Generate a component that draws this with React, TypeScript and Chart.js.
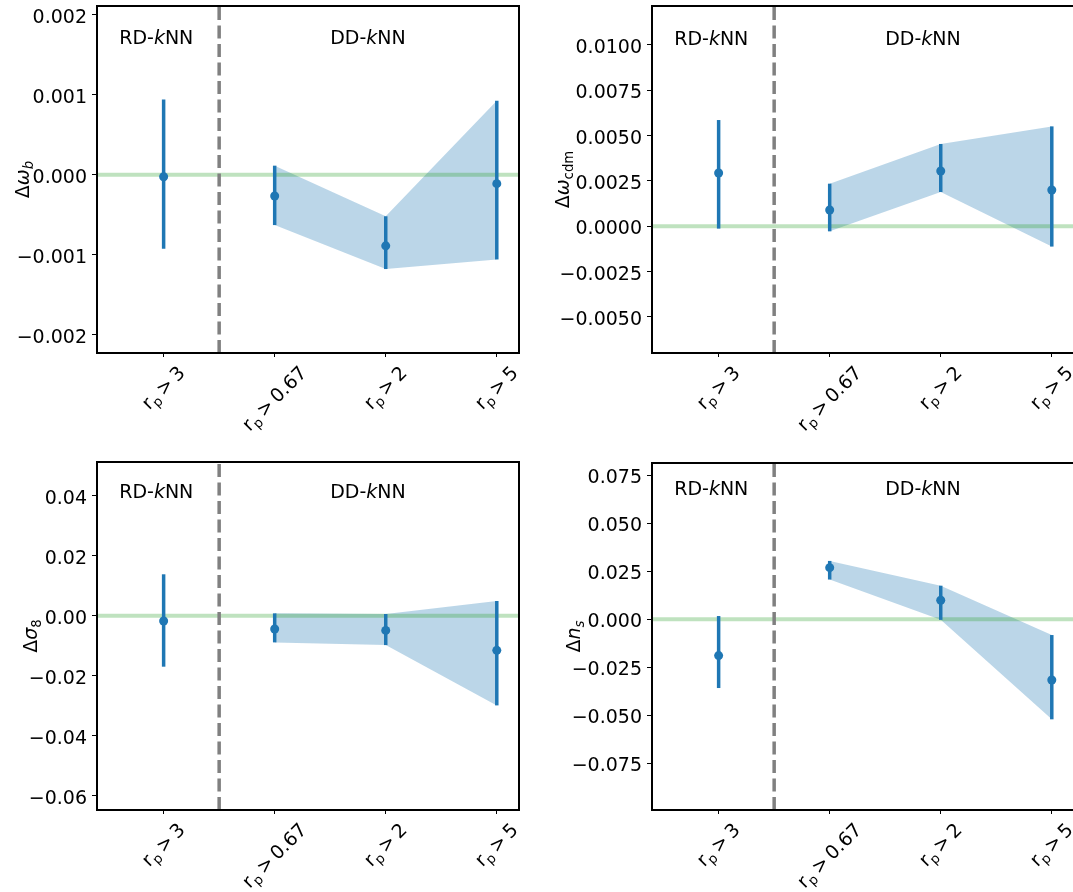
import React, { useEffect, useRef } from 'react';
import { Chart, registerables } from 'chart.js';

Chart.register(...registerables);

const FONT = '"DejaVu Sans", "Liberation Sans", sans-serif';
const BLUE = '#1f77b4';
const BAND = 'rgba(31,119,180,0.3)';
const ZERO_LINE = 'rgba(44,160,44,0.3)';
const DIVIDER = 'rgb(128,128,128)';
const SIZE = 19;

// r_p thresholds: the first is the RD-kNN run, the others are DD-kNN runs
const thresholds = ['3', '0.67', '2', '5'];
const positions = [0, 1, 2, 3];
const ddIndices = [1, 2, 3];
const methodNames = ['RD-kNN', 'DD-kNN'];
const methodStartX = [-0.4, 1.5];
const dividerX = 0.5;
const xRange = [-0.6, 3.2];

// Δω_b
const omegaBMean = [-0.000025, -0.000266, -0.00089, -0.000112];
const omegaBLow = [-0.000925, -0.00063, -0.00118, -0.00106];
const omegaBHigh = [0.00094, 0.000113, -0.00052, 0.000925];
const omegaBTicks = [-0.002, -0.001, 0, 0.001, 0.002];

// Δω_cdm
const omegaCdmMean = [0.00294, 0.0009, 0.00305, 0.002];
const omegaCdmLow = [-0.00013, -0.00028, 0.00189, -0.00112];
const omegaCdmHigh = [0.00586, 0.00235, 0.00454, 0.00551];
const omegaCdmTicks = [-0.005, -0.0025, 0, 0.0025, 0.005, 0.0075, 0.01];

// Δσ_8
const sigma8Mean = [-0.00178, -0.00444, -0.0049, -0.01156];
const sigma8Low = [-0.017, -0.0089, -0.0098, -0.0299];
const sigma8High = [0.0138, 0.00078, 0.00056, 0.0049];
const sigma8Ticks = [-0.06, -0.04, -0.02, 0, 0.02, 0.04];

// Δn_s
const nsMean = [-0.0189, 0.0269, 0.0099, -0.0316];
const nsLow = [-0.0358, 0.0207, -0.0003, -0.0521];
const nsHigh = [0.0017, 0.0304, 0.0175, -0.0082];
const nsTicks = [-0.075, -0.05, -0.025, 0, 0.025, 0.05, 0.075];

type Piece = { t: string; italic?: boolean; sub?: boolean };

type PanelCfg = {
  mean: number[];
  low: number[];
  high: number[];
  ticks: number[];
  decimals: number;
  yMin: number;
  yMax: number;
  textY: number;
  label: Piece[];
  box: { left: number; top: number; width: number; height: number };
  area: { l: number; t: number; r: number; b: number };
  labelGap: number;
};

const panels: PanelCfg[] = [
  {
    mean: omegaBMean, low: omegaBLow, high: omegaBHigh, ticks: omegaBTicks, decimals: 3,
    yMin: -0.00223, yMax: 0.00211, textY: 0.00164,
    label: [{ t: 'Δ' }, { t: 'ω', italic: true }, { t: 'b', italic: true, sub: true }],
    box: { left: 0, top: 0, width: 540, height: 446 },
    area: { l: 97, t: 6, r: 519, b: 353 },
    labelGap: 68,
  },
  {
    mean: omegaCdmMean, low: omegaCdmLow, high: omegaCdmHigh, ticks: omegaCdmTicks, decimals: 4,
    yMin: -0.00699, yMax: 0.01215, textY: 0.01,
    label: [{ t: 'Δ' }, { t: 'ω', italic: true }, { t: 'cdm', sub: true }],
    box: { left: 540, top: 0, width: 560, height: 446 },
    area: { l: 112, t: 6, r: 534, b: 353 },
    labelGap: 83,
  },
  {
    mean: sigma8Mean, low: sigma8Low, high: sigma8High, ticks: sigma8Ticks, decimals: 2,
    yMin: -0.06477, yMax: 0.05123, textY: 0.0391,
    label: [{ t: 'Δ' }, { t: 'σ', italic: true }, { t: '8', sub: true }],
    box: { left: 0, top: 446, width: 540, height: 446 },
    area: { l: 97, t: 16, r: 519, b: 364 },
    labelGap: 60,
  },
  {
    mean: nsMean, low: nsLow, high: nsHigh, ticks: nsTicks, decimals: 3,
    yMin: -0.09932, yMax: 0.0814, textY: 0.0647,
    label: [{ t: 'Δ' }, { t: 'n', italic: true }, { t: 's', italic: true, sub: true }],
    box: { left: 540, top: 446, width: 560, height: 446 },
    area: { l: 112, t: 17, r: 534, b: 364 },
    labelGap: 72,
  },
];

function pieceFont(p: Piece, size: number) {
  const s = p.sub ? size * 0.7 : size;
  return `${p.italic ? 'italic ' : ''}${s}px ${FONT}`;
}

function measureRich(ctx: CanvasRenderingContext2D, pieces: Piece[], size: number) {
  let w = 0;
  for (const p of pieces) {
    ctx.font = pieceFont(p, size);
    w += ctx.measureText(p.t).width;
  }
  return w;
}

function drawRich(ctx: CanvasRenderingContext2D, pieces: Piece[], x: number, y: number, size: number) {
  ctx.textAlign = 'left';
  ctx.textBaseline = 'alphabetic';
  let cx = x;
  for (const p of pieces) {
    ctx.font = pieceFont(p, size);
    ctx.fillText(p.t, cx, y + (p.sub ? size * 0.22 : 0));
    cx += ctx.measureText(p.t).width;
  }
}

function formatTick(v: number, decimals: number) {
  const s = Math.abs(v).toFixed(decimals);
  return v < 0 ? '\u2212' + s : s;
}

function thresholdLabel(t: string): Piece[] {
  return [{ t: 'r' }, { t: 'p', sub: true }, { t: '\u2009>\u2009' + t }];
}

function methodLabel(name: string): Piece[] {
  const i = name.indexOf('k');
  return [{ t: name.slice(0, i) }, { t: 'k', italic: true }, { t: name.slice(i + 1) }];
}

function Panel({ cfg }: { cfg: PanelCfg }) {
  const ref = useRef<HTMLCanvasElement>(null);

  useEffect(() => {
    const canvas = ref.current;
    if (!canvas) return;
    const { box, area } = cfg;

    const datasets: any[] = [];
    // shaded band spanning the DD-kNN error bars
    datasets.push({
      data: ddIndices.map((i) => ({ x: positions[i], y: cfg.low[i] })),
      borderWidth: 0, pointRadius: 0, fill: false, order: 6,
    });
    datasets.push({
      data: ddIndices.map((i) => ({ x: positions[i], y: cfg.high[i] })),
      borderWidth: 0, pointRadius: 0, fill: '-1', backgroundColor: BAND, borderColor: 'rgba(0,0,0,0)', order: 5,
    });
    // zero reference
    datasets.push({
      data: [{ x: xRange[0], y: 0 }, { x: xRange[1], y: 0 }],
      borderColor: ZERO_LINE, borderWidth: 4, pointRadius: 0, fill: false, order: 4,
    });
    // error bars
    positions.forEach((x, i) => {
      datasets.push({
        data: [{ x, y: cfg.low[i] }, { x, y: cfg.high[i] }],
        borderColor: BLUE, borderWidth: 3.5, pointRadius: 0, fill: false, order: 3,
      });
    });
    // central values
    datasets.push({
      data: positions.map((x, i) => ({ x, y: cfg.mean[i] })),
      showLine: false, pointRadius: 4.5, pointBackgroundColor: BLUE, pointBorderWidth: 0,
      borderColor: BLUE, fill: false, order: 2,
    });
    // RD / DD divider
    datasets.push({
      data: [{ x: dividerX, y: cfg.yMin }, { x: dividerX, y: cfg.yMax }],
      borderColor: DIVIDER, borderWidth: 3.5, borderDash: [13, 5.5], pointRadius: 0, fill: false, order: 1,
    });

    const decor = {
      id: 'decor',
      afterDraw(chart: any) {
        const ctx: CanvasRenderingContext2D = chart.ctx;
        const ca = chart.chartArea;
        const xs = chart.scales.x;
        const ys = chart.scales.y;
        ctx.save();
        ctx.fillStyle = '#000';

        // method names
        methodNames.forEach((name, i) => {
          drawRich(ctx, methodLabel(name), xs.getPixelForValue(methodStartX[i]), ys.getPixelForValue(cfg.textY), SIZE);
        });

        // axes frame
        ctx.strokeStyle = '#000';
        ctx.lineWidth = 2;
        ctx.strokeRect(ca.left, ca.top, ca.right - ca.left, ca.bottom - ca.top);

        // y tick labels
        ctx.font = `${SIZE}px ${FONT}`;
        ctx.textAlign = 'right';
        ctx.textBaseline = 'alphabetic';
        cfg.ticks.forEach((v) => {
          ctx.fillText(formatTick(v, cfg.decimals), ca.left - 10, ys.getPixelForValue(v) + 8);
        });

        // rotated x tick labels
        thresholds.forEach((t, i) => {
          const pieces = thresholdLabel(t);
          const L = measureRich(ctx, pieces, SIZE);
          const h = SIZE * 1.17;
          const cx = xs.getPixelForValue(positions[i]);
          const cy = ca.bottom + 9 + (L + h) / (2 * Math.SQRT2);
          ctx.save();
          ctx.translate(cx, cy);
          ctx.rotate(-Math.PI / 4);
          drawRich(ctx, pieces, -L / 2, SIZE * 0.3, SIZE);
          ctx.restore();
        });

        // y axis title
        const lw = measureRich(ctx, cfg.label, SIZE);
        ctx.save();
        ctx.translate(ca.left - cfg.labelGap, (ca.top + ca.bottom) / 2);
        ctx.rotate(-Math.PI / 2);
        drawRich(ctx, cfg.label, -lw / 2, 0, SIZE);
        ctx.restore();

        ctx.restore();
      },
    };

    const chart = new Chart(canvas, {
      type: 'line',
      data: { datasets },
      options: {
        animation: false,
        responsive: false,
        maintainAspectRatio: false,
        events: [],
        layout: { padding: { left: 0, top: area.t, right: box.width - area.r, bottom: 0 } },
        plugins: {
          legend: { display: false },
          tooltip: { enabled: false },
          title: { display: false },
        },
        scales: {
          x: {
            type: 'linear',
            min: xRange[0],
            max: xRange[1],
            afterBuildTicks: (s: any) => { s.ticks = positions.map((v) => ({ value: v })); },
            afterFit: (s: any) => { s.height = box.height - area.b; },
            ticks: { display: false },
            grid: { drawOnChartArea: false, drawTicks: true, tickLength: 4, color: '#000', lineWidth: 1 },
            border: { display: false },
          },
          y: {
            type: 'linear',
            min: cfg.yMin,
            max: cfg.yMax,
            afterBuildTicks: (s: any) => { s.ticks = cfg.ticks.map((v) => ({ value: v })); },
            afterFit: (s: any) => { s.width = area.l; },
            ticks: { display: false },
            grid: { drawOnChartArea: false, drawTicks: true, tickLength: 5, color: '#000', lineWidth: 1 },
            border: { display: false },
          },
        },
      } as any,
      plugins: [decor],
    });
    return () => chart.destroy();
  }, [cfg]);

  return (
    <canvas
      ref={ref}
      width={cfg.box.width}
      height={cfg.box.height}
      style={{
        position: 'absolute',
        left: cfg.box.left,
        top: cfg.box.top,
        width: cfg.box.width,
        height: cfg.box.height,
      }}
    />
  );
}

export default function App() {
  return (
    <div
      style={{
        position: 'fixed',
        left: 0,
        top: 0,
        width: 1073,
        height: 892,
        overflow: 'hidden',
        background: '#fff',
      }}
    >
      {panels.map((p, i) => (
        <Panel key={i} cfg={p} />
      ))}
    </div>
  );
}
